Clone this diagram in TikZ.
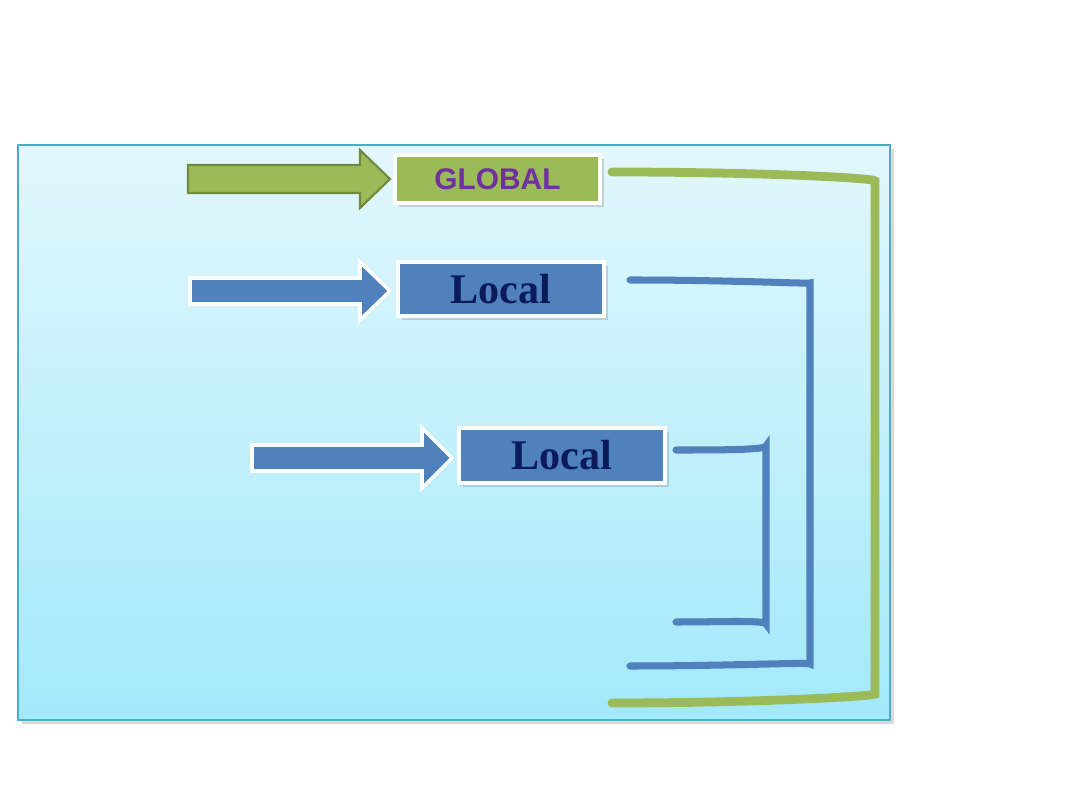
\documentclass[tikz,border=0pt]{standalone}
\usepackage{fontspec}
\setmainfont{Liberation Serif}
\setsansfont{Liberation Sans}
\definecolor{gfill}{HTML}{9BBB59}
\definecolor{gdark}{HTML}{71893F}
\definecolor{bfill}{HTML}{4F81BD}
\definecolor{ptxt}{HTML}{7030A0}
\definecolor{ntxt}{HTML}{0B1A5A}
\definecolor{ptop}{HTML}{E2F7FC}
\definecolor{pbot}{HTML}{A2E9FB}
\definecolor{pedge}{HTML}{4BACC6}
\tikzset{
  box/.style={draw=white,line width=2.5pt,minimum width=3.95cm,inner sep=0pt,drop shadow={opacity=0.3}},
  brk/.style={line width=#1,line cap=round,rounded corners=8pt},
}
\usetikzlibrary{shadows}
\begin{document}
\begin{tikzpicture}[x=0.02cm,y=-0.02cm]
\useasboundingbox (0,0) rectangle (1080,810);
\shade[top color=ptop,bottom color=pbot,draw=pedge,line width=0.8pt,drop shadow={opacity=0.3}] (18,145) rectangle (890,720);
% arrows
\draw[fill=gfill,draw=gdark,line width=1.2pt] (188,165) -- (360,165) -- (360,150) -- (390,179) -- (360,208) -- (360,193) -- (188,193) -- cycle;
\draw[fill=bfill,draw=white,line width=2pt] (190,278) -- (360,278) -- (360,262) -- (390,291) -- (360,320) -- (360,304) -- (190,304) -- cycle;
\draw[fill=bfill,draw=white,line width=2pt] (252,445) -- (422,445) -- (422,428) -- (452,458) -- (422,488) -- (422,471) -- (252,471) -- cycle;
% boxes
\node[box,fill=gfill,minimum width=4.1cm,minimum height=0.96cm,font=\sffamily\bfseries\fontsize{17}{20}\selectfont,text=ptxt] (g) at (497.5,179) {GLOBAL};
\node[box,fill=bfill,minimum width=4.12cm,minimum height=1.08cm,font=\bfseries\fontsize{24}{28}\selectfont,text=ntxt] (l1) at (501,289) {Local};
\node[box,fill=bfill,minimum width=4.12cm,minimum height=1.1cm,font=\bfseries\fontsize{24}{28}\selectfont,text=ntxt] (l2) at (562,455.5) {Local};
% brackets
\draw[brk=5pt,draw=gfill] (612,172) .. controls (760,172) and (875,178) .. (875,195) -- (875,680) .. controls (875,696) and (760,703) .. (612,703);
\draw[brk=4pt,draw=bfill] (630,280) .. controls (730,280) and (810,284) .. (810,297) -- (810,650) .. controls (810,662) and (730,666) .. (630,666);
\draw[brk=4pt,draw=bfill] (676,450) .. controls (720,450) and (766,450) .. (766,460) -- (766,610) .. controls (766,620) and (720,622) .. (676,622);
\end{tikzpicture}
\end{document}
